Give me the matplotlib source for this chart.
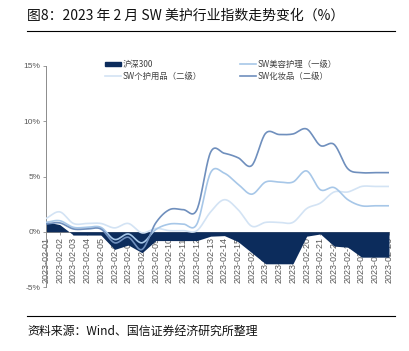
import numpy as np
import matplotlib
matplotlib.use("Agg")
import matplotlib.pyplot as plt
from matplotlib.lines import Line2D
from matplotlib.patches import Patch

plt.rcParams['font.family'] = ['Noto Sans CJK SC', 'DejaVu Sans']

dates = ["2023-02-01", "2023-02-02", "2023-02-03", "2023-02-04", "2023-02-05",
         "2023-02-06", "2023-02-07", "2023-02-08", "2023-02-09", "2023-02-10",
         "2023-02-11", "2023-02-12", "2023-02-13", "2023-02-14", "2023-02-15",
         "2023-02-16", "2023-02-17", "2023-02-18", "2023-02-19", "2023-02-20",
         "2023-02-21", "2023-02-22", "2023-02-23", "2023-02-24", "2023-02-25",
         "2023-02-26"]

hs300 = [0.9, 0.65, -0.3, -0.3, -0.3, -1.6, -1.2, -1.9, -0.8, -0.8, -0.8, -0.8,
         -0.4, -0.35, -0.9, -1.9, -2.9, -2.9, -2.9, -0.4, -0.2, -1.3, -1.4,
         -2.3, -2.3, -2.3]
meirong = [0.85, 1.0, 0.4, 0.4, 0.4, -0.7, -0.2, -1.0, 0.2, 0.7, 0.7, 0.7,
           5.35, 5.3, 4.3, 3.4, 4.5, 4.5, 4.5, 5.5, 3.8, 4.0, 2.9, 2.35, 2.35, 2.35]
gehu = [1.2, 1.8, 0.75, 0.75, 0.75, 0.35, 0.75, -0.1, 0.3, 0.1, 0.1, 0.1,
        1.8, 2.9, 2.0, 0.5, 0.85, 0.85, 0.85, 2.1, 2.6, 3.6, 3.6, 4.1, 4.1, 4.1]
huazhuang = [0.7, 0.8, 0.25, 0.25, 0.25, -1.0, -0.5, -1.6, 0.8, 2.0, 2.0, 2.0,
             7.2, 7.1, 6.7, 6.0, 8.9, 8.8, 8.85, 9.3, 7.8, 7.9, 5.7, 5.35, 5.35, 5.35]

yticks = [-5, 0, 5, 10, 15]
ytick_labels = ["-5%", "0%", "5%", "10%", "15%"]

title = "图8：2023 年 2 月 SW 美护行业指数走势变化（%）"
source = "资料来源：Wind、国信证券经济研究所整理"
names = ["沪深300", "SW美容护理（一级）", "SW个护用品（二级）", "SW化妆品（二级）"]

c_hs = '#0c2c5c'
c_mr = '#a7c7e8'
c_gh = '#d3e3f4'
c_hz = '#6f8fbd'


def smooth(y, n=20):
    # Catmull-Rom curve through the data points (drawing only, like Excel smoothing)
    y = np.asarray(y, float)
    x = np.arange(len(y), dtype=float)
    m = np.zeros_like(y)
    m[1:-1] = (y[2:] - y[:-2]) / 2
    m[0] = y[1] - y[0]
    m[-1] = y[-1] - y[-2]
    xs, ys = [], []
    for i in range(len(y) - 1):
        t = np.linspace(0, 1, n, endpoint=False)
        h00 = 2 * t**3 - 3 * t**2 + 1
        h10 = t**3 - 2 * t**2 + t
        h01 = -2 * t**3 + 3 * t**2
        h11 = t**3 - t**2
        xs.append(x[i] + t)
        ys.append(h00 * y[i] + h10 * m[i] + h01 * y[i + 1] + h11 * m[i + 1])
    xs.append([x[-1]])
    ys.append([y[-1]])
    return np.concatenate(xs), np.concatenate(ys)


W, H = 409, 351
fig = plt.figure(figsize=(W / 100, H / 100), dpi=100)

ax = fig.add_axes([46 / W, 1 - 287 / H, (389 - 46) / W, (287 - 66) / H])
for s in ['top', 'right']:
    ax.spines[s].set_visible(False)
ax.spines['bottom'].set_position(('data', 0))
ax.spines['bottom'].set_color('#8c8c8c')
ax.spines['left'].set_color('#8c8c8c')
ax.spines['bottom'].set_linewidth(0.7)
ax.spines['left'].set_linewidth(0.7)
ax.spines['bottom'].set_zorder(1)

x = np.arange(len(dates))
ax.fill_between(x, 0, hs300, color=c_hs, linewidth=0, zorder=2)
for vals, col in [(gehu, c_gh), (meirong, c_mr), (huazhuang, c_hz)]:
    sx, sy = smooth(vals)
    ax.plot(sx, sy, color=col, lw=1.2, zorder=3, solid_capstyle='round')

ax.set_xlim(0, len(dates) - 1)
ax.set_ylim(-5, 15)
ax.set_yticks(yticks)
ax.set_yticklabels(ytick_labels, fontsize=6, color='#595959', family=['Liberation Sans'])
ax.set_xticks(x)
ax.set_xticklabels(dates, rotation=90, fontsize=6.5, color='#595959',
                   family=['Liberation Sans'])
ax.tick_params(axis='both', direction='out', length=2.5, width=0.6, color='#8c8c8c', pad=1.5)
ax.tick_params(axis='x', labelrotation=90)

handles = [Patch(facecolor=c_hs, edgecolor=c_hs),
           Line2D([], [], color=c_gh, lw=1.2),
           Line2D([], [], color=c_mr, lw=1.2),
           Line2D([], [], color=c_hz, lw=1.2)]
labels = [names[0], names[2], names[1], names[3]]
leg = fig.legend(handles, labels, loc='upper left', bbox_to_anchor=(105 / W, 1 - 60 / H),
                 ncol=2, frameon=False, fontsize=6, handlelength=1.9, handleheight=0.5,
                 handletextpad=0.2, columnspacing=4.6, labelspacing=0.35, borderpad=0,
                 borderaxespad=0)
for t in leg.get_texts():
    t.set_color('#404040')

fig.text(27 / W, 1 - 16 / H, title, fontsize=10, va='center', ha='left', color='#111111')
fig.add_artist(Line2D([27 / W, 395 / W], [1 - 31 / H, 1 - 31 / H], color='black', lw=0.8))
fig.add_artist(Line2D([27 / W, 395 / W], [1 - 316 / H, 1 - 316 / H], color='black', lw=0.8))
fig.text(27 / W, 1 - 331 / H, source, fontsize=8.6, va='center', ha='left', color='#111111')

fig.savefig('out.png', dpi=100)
